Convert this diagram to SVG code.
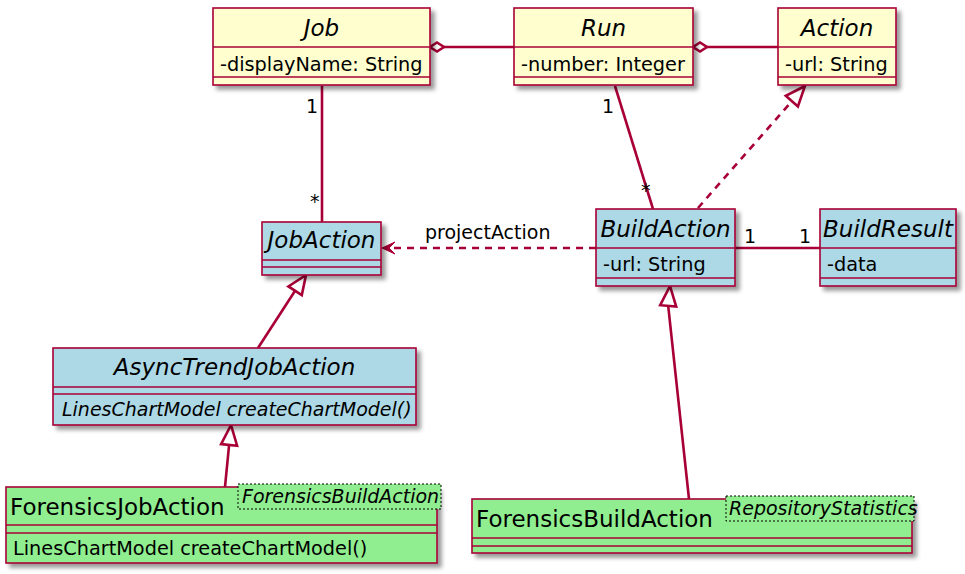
<svg xmlns="http://www.w3.org/2000/svg" width="965" height="574" viewBox="0 0 965 574">
<defs>
<filter id="sh" x="-10%" y="-10%" width="130%" height="140%">
<feDropShadow dx="4" dy="4" stdDeviation="2" flood-color="#000" flood-opacity="0.4"/>
</filter>
</defs>
<style>
.box{stroke:#A80036;stroke-width:1.6;filter:url(#sh)}
.y{fill:#FEFECE}
.b{fill:#ADD8E6}
.g{fill:#90EE90}
.div{stroke:#A80036;stroke-width:1.6}
.tpl{fill:#90EE90;stroke:#000;stroke-width:1;stroke-dasharray:2,2}
text{font-family:"DejaVu Sans","Liberation Sans",sans-serif;fill:#000}
.t{font-size:23px;font-style:italic;text-anchor:middle}
.tn{font-size:23px}
.m{font-size:19.3px}
.mi{font-size:19px;font-style:italic}
.lbl{font-size:19px}
.c{stroke:#A80036;stroke-width:2.6;fill:none}
.d{stroke-dasharray:7,6}
.hw{fill:#fff;stroke:#A80036;stroke-width:2.6}
.hf{fill:#A80036;stroke:#A80036;stroke-width:1}
</style>
<g id="connectors">
<line class="c" x1="444" y1="47" x2="514" y2="47"/>
<polygon class="hw" points="430,47 437,42.5 444,47 437,51.5"/>
<line class="c" x1="707" y1="47" x2="778" y2="47"/>
<polygon class="hw" points="693,47 700,42.5 707,47 700,51.5"/>
<line class="c" x1="322" y1="86" x2="322" y2="222"/>
<line class="c" x1="615" y1="86" x2="653" y2="209"/>
<line class="c d" x1="698" y1="208" x2="791.9" y2="101.1"/>
<polygon class="hw" points="805,86 785.8,95.8 797.9,106.4"/>
<line class="c" x1="258" y1="348" x2="295.1" y2="290.8"/>
<polygon class="hw" points="306,275 288.4,286.4 301.8,295.1"/>
<line class="c" x1="225" y1="487" x2="229.1" y2="444.9"/>
<polygon class="hw" points="231,425 221.1,444.1 237.1,445.7"/>
<line class="c" x1="689" y1="499" x2="668.2" y2="305.9"/>
<polygon class="hw" points="670,286 660.2,305.2 676.2,306.6"/>
<line class="c d" x1="596" y1="248" x2="386" y2="248"/>
<polygon class="hf" points="382,248 395,242 389,248 395,254"/>
<line class="c" x1="735" y1="248" x2="820" y2="248"/>
<text class="lbl" x="425" y="239">projectAction</text>
<text class="lbl" x="318" y="113" text-anchor="end">1</text>
<text class="lbl" x="310" y="208">*</text>
<text class="lbl" x="614" y="113" text-anchor="end">1</text>
<text class="lbl" x="641" y="197">*</text>
<text class="lbl" x="744" y="243">1</text>
<text class="lbl" x="799" y="243">1</text>
</g>
<g id="Job">
<rect class="box y" x="213" y="8" width="217" height="77"/>
<line class="div" x1="213" y1="47" x2="430" y2="47"/>
<line class="div" x1="213" y1="77" x2="430" y2="77"/>
<text class="t" x="321.5" y="36">Job</text>
<text class="m" x="220" y="71">-displayName: String</text>
</g>
<g id="Run">
<rect class="box y" x="514" y="8" width="179" height="77"/>
<line class="div" x1="514" y1="47" x2="693" y2="47"/>
<line class="div" x1="514" y1="77" x2="693" y2="77"/>
<text class="t" x="603.5" y="36">Run</text>
<text class="m" x="521" y="71">-number: Integer</text>
</g>
<g id="Action">
<rect class="box y" x="778" y="8" width="118" height="77"/>
<line class="div" x1="778" y1="47" x2="896" y2="47"/>
<line class="div" x1="778" y1="77" x2="896" y2="77"/>
<text class="t" x="837" y="36">Action</text>
<text class="m" x="785" y="71">-url: String</text>
</g>
<g id="JobAction">
<rect class="box b" x="262" y="222" width="119" height="53"/>
<line class="div" x1="262" y1="260" x2="381" y2="260"/>
<line class="div" x1="262" y1="267" x2="381" y2="267"/>
<text class="t" x="321.5" y="248">JobAction</text>
</g>
<g id="BuildAction">
<rect class="box b" x="596" y="209" width="139" height="77"/>
<line class="div" x1="596" y1="248" x2="735" y2="248"/>
<line class="div" x1="596" y1="278" x2="735" y2="278"/>
<text class="t" x="665.5" y="237">BuildAction</text>
<text class="m" x="603" y="271">-url: String</text>
</g>
<g id="BuildResult">
<rect class="box b" x="820" y="209" width="136" height="77"/>
<line class="div" x1="820" y1="248" x2="956" y2="248"/>
<line class="div" x1="820" y1="278" x2="956" y2="278"/>
<text class="t" x="888" y="237">BuildResult</text>
<text class="m" x="827" y="271">-data</text>
</g>
<g id="AsyncTrendJobAction">
<rect class="box b" x="53" y="348" width="363" height="77"/>
<line class="div" x1="53" y1="387" x2="416" y2="387"/>
<line class="div" x1="53" y1="394" x2="416" y2="394"/>
<text class="t" x="234.5" y="375">AsyncTrendJobAction</text>
<text class="mi" x="62" y="416">LinesChartModel createChartModel()</text>
</g>
<g id="ForensicsJobAction">
<rect class="box g" x="6" y="487" width="431" height="76"/>
<line class="div" x1="6" y1="525" x2="437" y2="525"/>
<line class="div" x1="6" y1="533" x2="437" y2="533"/>
<text class="tn" x="10" y="515">ForensicsJobAction</text>
<rect class="tpl" x="238" y="484" width="203" height="25"/>
<text class="mi" x="242" y="503">ForensicsBuildAction</text>
<text class="m" x="13" y="555">LinesChartModel createChartModel()</text>
</g>
<g id="ForensicsBuildAction">
<rect class="box g" x="472" y="499" width="440" height="54"/>
<line class="div" x1="472" y1="538" x2="912" y2="538"/>
<line class="div" x1="472" y1="546" x2="912" y2="546"/>
<text class="tn" x="476" y="527">ForensicsBuildAction</text>
<rect class="tpl" x="726" y="496" width="188" height="25"/>
<text class="mi" x="729" y="515">RepositoryStatistics</text>
</g>
</svg>
